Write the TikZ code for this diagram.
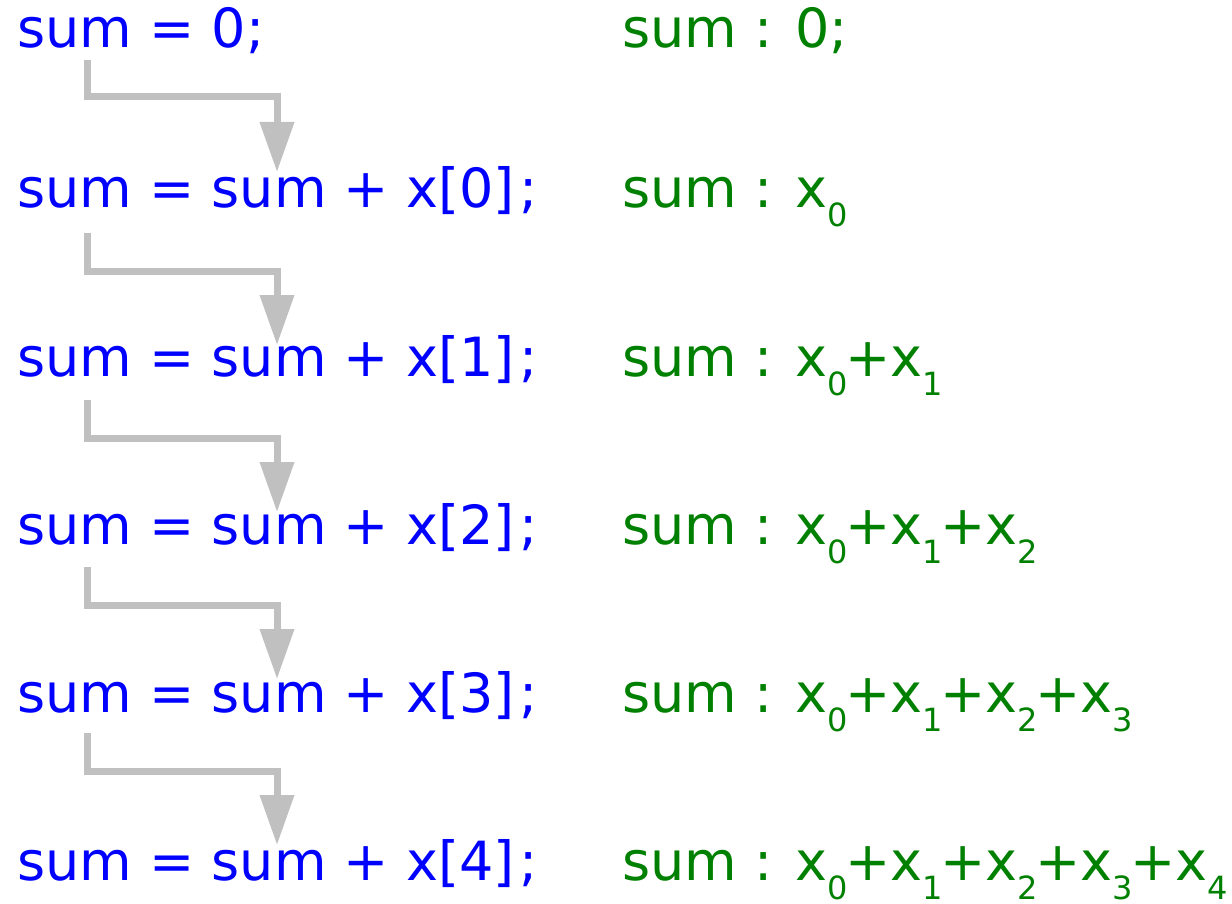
\documentclass[tikz,border=0pt]{standalone}
\usepackage{fontspec}
\setmainfont{DejaVu Sans}
\usetikzlibrary{arrows.meta,positioning,calc}
\definecolor{sumCode}{HTML}{0000FF}
\definecolor{sumValue}{HTML}{008000}
\definecolor{sumFlow}{HTML}{C0C0C0}
\tikzset{
  code/.style={anchor=base west, inner sep=0pt, text=sumCode,
    font=\fontsize{54}{60}\selectfont},
  value/.style={code, text=sumValue},
  flow/.style={-{Triangle[length=50pt, width=33pt]}, line width=7pt, sumFlow}
}
\newcommand{\subd}[1]{\raisebox{-19pt}{\fontsize{32}{32}\selectfont #1}\kern-2.5pt}

\begin{document}
\begin{tikzpicture}[x=1pt, y=1pt]
  \useasboundingbox (0,0) rectangle (1232,-904);
  % statements
  \node[code] (c0) at (17,-48) {sum = 0;};
  \node[code] (c1) at (17,-208) {sum = sum + x[0]\kern5pt;};
  \node[code] (c2) at (17,-376) {sum = sum + x[1]\kern5pt;};
  \node[code] (c3) at (17,-544) {sum = sum + x[2]\kern5pt;};
  \node[code] (c4) at (17,-712) {sum = sum + x[3]\kern5pt;};
  \node[code] (c5) at (17,-880) {sum = sum + x[4]\kern5pt;};
  % values of sum
  \node[value] (v0) at (622,-48) {sum : 0;};
  \node[value] (v1) at (622,-208) {sum : x\subd{0}};
  \node[value] (v2) at (622,-376) {sum : x\subd{0}+x\subd{1}};
  \node[value] (v3) at (622,-544) {sum : x\subd{0}+x\subd{1}+x\subd{2}};
  \node[value] (v4) at (622,-712) {sum : x\subd{0}+x\subd{1}+x\subd{2}+x\subd{3}};
  \node[value] (v5) at (622,-880) {sum : x\subd{0}+x\subd{1}+x\subd{2}+x\subd{3}+x\subd{4}};
  % data flow between statements
  \foreach \a/\b/\s/\d/\t in {0/1/12/37/36, 1/2/25/39/31, 2/3/24/38/32, 3/4/23/38/33, 4/5/21/38/35}
    \draw[flow] ([shift={(70,-\s)}]c\a.base west) -- ++(0,-\d)
      -| ([shift={(260,\t)}]c\b.base west);
\end{tikzpicture}
\end{document}
